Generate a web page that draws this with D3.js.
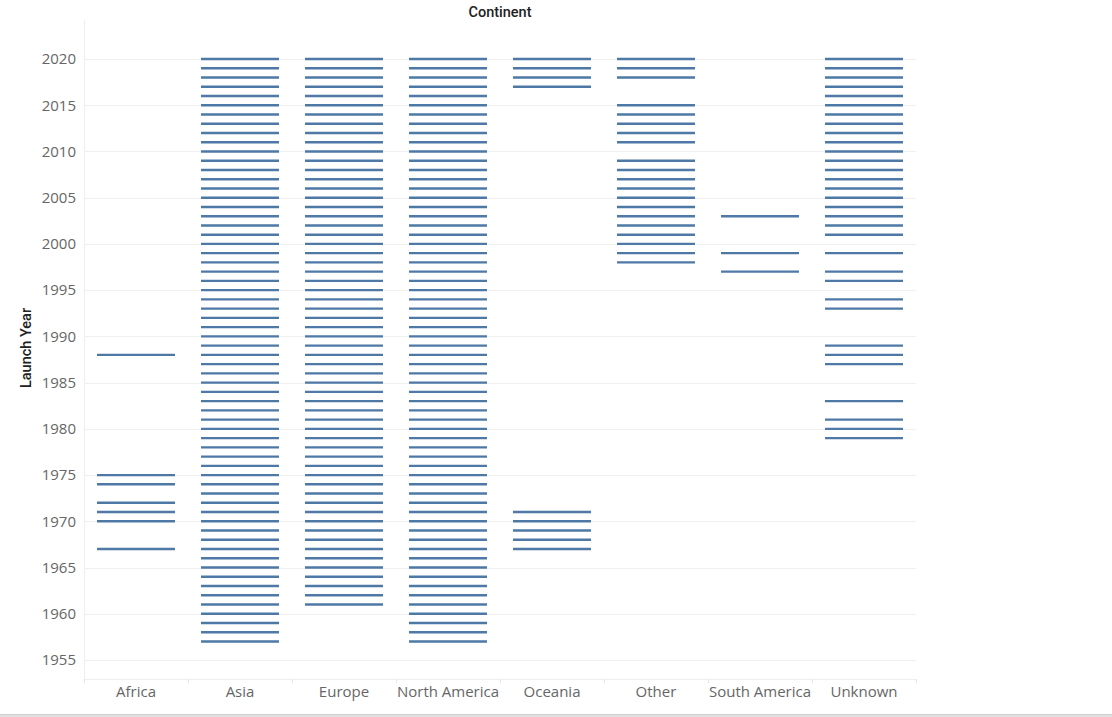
<!DOCTYPE html>
<html>
<head>
<meta charset="utf-8">
<script src="https://cdn.jsdelivr.net/npm/d3@7"></script>
<style>
  html, body { margin: 0; padding: 0; background: #fff; }
  svg { display: block; }
</style>
</head>
<body>
<svg id="chart" width="1112" height="717"></svg>
<script>
// ---- Data ----
const continents = ["Africa", "Asia", "Europe", "North America", "Oceania", "Other", "South America", "Unknown"];

const africaYears = [1988, 1975, 1974, 1972, 1971, 1970, 1967];
const asiaYears = [2020, 2019, 2018, 2017, 2016, 2015, 2014, 2013, 2012, 2011, 2010, 2009, 2008, 2007, 2006, 2005, 2004, 2003, 2002, 2001,
  2000, 1999, 1998, 1997, 1996, 1995, 1994, 1993, 1992, 1991, 1990, 1989, 1988, 1987, 1986, 1985, 1984, 1983, 1982, 1981,
  1980, 1979, 1978, 1977, 1976, 1975, 1974, 1973, 1972, 1971, 1970, 1969, 1968, 1967, 1966, 1965, 1964, 1963, 1962, 1961,
  1960, 1959, 1958, 1957];
const europeYears = [2020, 2019, 2018, 2017, 2016, 2015, 2014, 2013, 2012, 2011, 2010, 2009, 2008, 2007, 2006, 2005, 2004, 2003, 2002, 2001,
  2000, 1999, 1998, 1997, 1996, 1995, 1994, 1993, 1992, 1991, 1990, 1989, 1988, 1987, 1986, 1985, 1984, 1983, 1982, 1981,
  1980, 1979, 1978, 1977, 1976, 1975, 1974, 1973, 1972, 1971, 1970, 1969, 1968, 1967, 1966, 1965, 1964, 1963, 1962, 1961];
const northAmericaYears = [2020, 2019, 2018, 2017, 2016, 2015, 2014, 2013, 2012, 2011, 2010, 2009, 2008, 2007, 2006, 2005, 2004, 2003, 2002, 2001,
  2000, 1999, 1998, 1997, 1996, 1995, 1994, 1993, 1992, 1991, 1990, 1989, 1988, 1987, 1986, 1985, 1984, 1983, 1982, 1981,
  1980, 1979, 1978, 1977, 1976, 1975, 1974, 1973, 1972, 1971, 1970, 1969, 1968, 1967, 1966, 1965, 1964, 1963, 1962, 1961,
  1960, 1959, 1958, 1957];
const oceaniaYears = [2020, 2019, 2018, 2017, 1971, 1970, 1969, 1968, 1967];
const otherYears = [2020, 2019, 2018, 2015, 2014, 2013, 2012, 2011, 2009, 2008, 2007, 2006, 2005, 2004, 2003, 2002, 2001, 2000, 1999, 1998];
const southAmericaYears = [2003, 1999, 1997];
const unknownYears = [2020, 2019, 2018, 2017, 2016, 2015, 2014, 2013, 2012, 2011, 2010, 2009, 2008, 2007, 2006, 2005, 2004, 2003, 2002, 2001,
  1999, 1997, 1996, 1994, 1993, 1989, 1988, 1987, 1983, 1981, 1980, 1979];

const yearTicks = [1955, 1960, 1965, 1970, 1975, 1980, 1985, 1990, 1995, 2000, 2005, 2010, 2015, 2020];

const yearsByContinent = [africaYears, asiaYears, europeYears, northAmericaYears, oceaniaYears, otherYears, southAmericaYears, unknownYears];

const marks = [];
continents.forEach((c, i) => yearsByContinent[i].forEach(yr => marks.push({ continent: c, year: yr })));

// ---- Layout ----
const svg = d3.select("#chart");
const plotLeft = 84, plotRight = 916, plotTop = 20, plotBottom = 679;
const font = "'Open Sans', 'Noto Sans', sans-serif";
const titleFont = "Roboto, 'Open Sans', sans-serif";

const x = d3.scaleBand().domain(continents).range([plotLeft, plotRight]).paddingInner(0).paddingOuter(0);
const y = d3.scaleLinear().domain([1955, 2020]).range([660, 59]);

// gridlines
svg.append("g").selectAll("line").data(yearTicks).join("line")
  .attr("x1", plotLeft).attr("x2", plotRight)
  .attr("y1", d => Math.round(y(d)) + 0.5).attr("y2", d => Math.round(y(d)) + 0.5)
  .attr("stroke", "#f0f0f0").attr("stroke-width", 1);

// left axis line
svg.append("line").attr("x1", plotLeft + 0.5).attr("x2", plotLeft + 0.5).attr("y1", plotTop).attr("y2", plotBottom + 4)
  .attr("stroke", "#eeeeee");
// bottom axis line
svg.append("line").attr("x1", plotLeft).attr("x2", plotRight).attr("y1", plotBottom + 0.5).attr("y2", plotBottom + 0.5)
  .attr("stroke", "#eeeeee");

// category dividers (small ticks)
const dividers = continents.map(c => x(c)).concat([plotRight]);
svg.append("g").selectAll("line").data(dividers).join("line")
  .attr("x1", d => d + 0.5).attr("x2", d => d + 0.5)
  .attr("y1", plotBottom).attr("y2", plotBottom + 4)
  .attr("stroke", "#e6e6e6");

// y axis via d3
const yAxis = d3.axisLeft(y).tickValues(yearTicks).tickFormat(d3.format("d")).tickSize(0).tickPadding(8);
const gy = svg.append("g").attr("transform", `translate(${plotLeft},0)`).call(yAxis);
gy.select(".domain").remove();
gy.selectAll("text").attr("fill", "#666").style("font-family", font).style("font-size", "15px");

// x axis via d3
const xAxis = d3.axisBottom(x).tickSize(0).tickPadding(7);
const gx = svg.append("g").attr("transform", `translate(0,${plotBottom})`).call(xAxis);
gx.select(".domain").remove();
gx.selectAll("text").attr("fill", "#666").style("font-family", font).style("font-size", "15px");

// marks
const markW = 78;
svg.append("g").selectAll("line").data(marks).join("line")
  .attr("x1", d => x(d.continent) + x.bandwidth() / 2 - markW / 2)
  .attr("x2", d => x(d.continent) + x.bandwidth() / 2 + markW / 2)
  .attr("y1", d => y(d.year)).attr("y2", d => y(d.year))
  .attr("stroke", "#4e79a7").attr("stroke-width", 2.4);

// title
svg.append("text").attr("x", (plotLeft + plotRight) / 2).attr("y", 17)
  .attr("text-anchor", "middle").attr("fill", "#222")
  .style("font-family", titleFont).style("font-size", "14.5px").style("font-weight", "500")
  .text("Continent");

// y title
svg.append("text").attr("transform", `translate(31,348) rotate(-90)`)
  .attr("text-anchor", "middle").attr("fill", "#222")
  .style("font-family", titleFont).style("font-size", "14.5px").style("font-weight", "500")
  .text("Launch Year");

// bottom border
svg.append("rect").attr("x", 0).attr("y", 714).attr("width", 1112).attr("height", 3).attr("fill", "#e0e0e0");
svg.append("line").attr("x1", 0).attr("x2", 1112).attr("y1", 714.5).attr("y2", 714.5).attr("stroke", "#cfcfcf");
</script>
</body>
</html>
